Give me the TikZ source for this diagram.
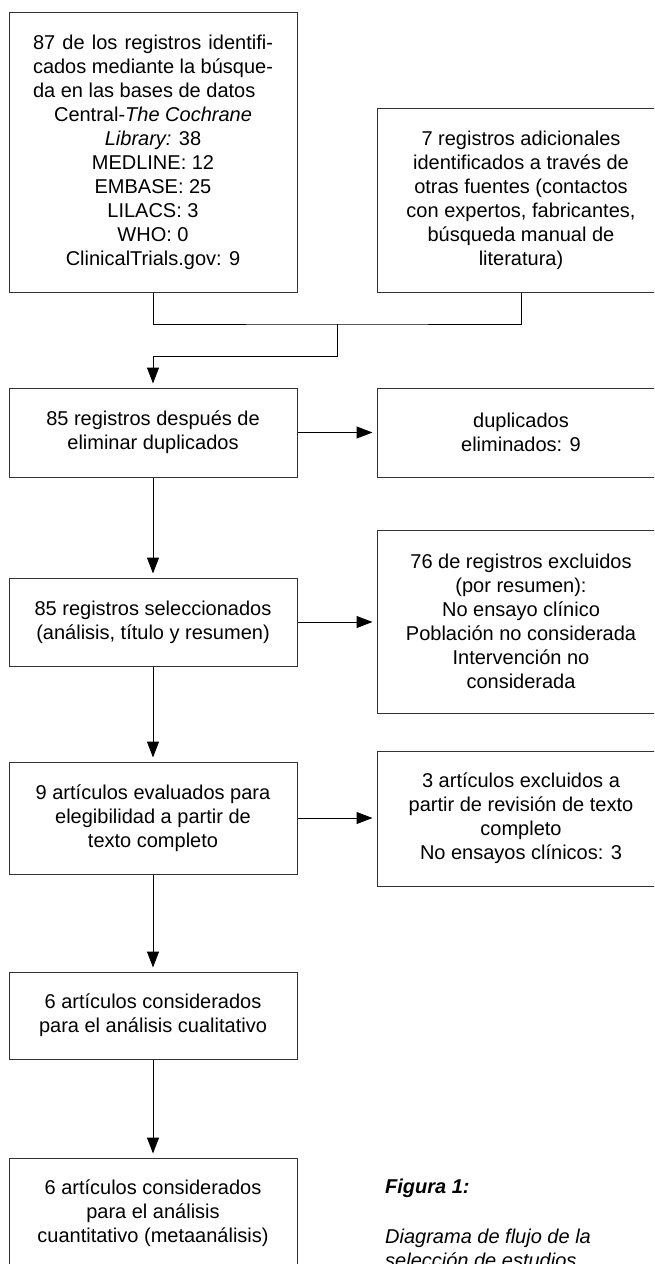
\documentclass[tikz,border=0pt]{standalone}
\usepackage{fontspec}
\setmainfont{Liberation Sans}
\usetikzlibrary{arrows.meta}

\begin{document}
\begin{tikzpicture}[x=1pt,y=1pt,
  box/.style={draw=black!80, line width=1pt, minimum width=288pt, inner sep=0pt,
    align=center, font=\fontsize{20}{24}\selectfont},
  flow/.style={line width=1pt, -{Triangle[length=16pt,width=12pt]}, shorten >=4pt},
  link/.style={line width=1pt}]

\useasboundingbox (0,0) rectangle (654,-1264);
\clip (0,0) rectangle (654,-1264);

% Identification
\node[box, minimum height=280pt] (ident) at (153,-152) {%
  \makebox[240pt][s]{87 de los registros identifi-}\\
  \makebox[240pt][s]{cados mediante la búsque-}\\
  \makebox[240pt][l]{da en las bases de datos}\\
  Central-\textit{The Cochrane}\\
  \textit{Library:} 38\\
  MEDLINE: 12\\
  EMBASE: 25\\
  LILACS: 3\\
  WHO: 0\\
  ClinicalTrials.gov: 9};
\node[box, minimum height=184pt] (extra) at (521,-200) {%
  7 registros adicionales\\
  identificados a través de\\
  otras fuentes (contactos\\
  con expertos, fabricantes,\\
  búsqueda manual de\\
  literatura)};

% Merge of both sources
\coordinate (join) at (337,-324);
\draw[link] (ident.south) |- (join) -| (extra.south);

% Screening
\node[box, minimum height=89pt] (dedup) at (153,-432.5) {85 registros después de\\eliminar duplicados};
\node[box, minimum height=89pt] (dupl) at (521,-432.5) {duplicados\\eliminados: 9};
\node[box, minimum height=88pt] (screen) at (153,-622) {85 registros seleccionados\\(análisis, título y resumen)};
\node[box, minimum height=183pt] (absexcl) at (521,-621.5) {%
  76 de registros excluidos\\
  (por resumen):\\
  No ensayo clínico\\
  Población no considerada\\
  Intervención no\\
  considerada};

% Eligibility
\node[box, minimum height=112pt] (elig) at (153,-818) {9 artículos evaluados para\\elegibilidad a partir de\\texto completo};
\node[box, minimum height=135pt] (fullexcl) at (521,-818.5) {%
  3 artículos excluidos a\\
  partir de revisión de texto\\
  completo\\
  No ensayos clínicos: 3};

% Included
\node[box, minimum height=87pt] (qual) at (153,-1015.5) {6 artículos considerados\\para el análisis cualitativo};
\node[box, minimum height=110pt] (quant) at (153,-1213) {6 artículos considerados\\para el análisis\\cuantitativo (metaanálisis)};

% Caption (cut off by the page edge, as in the figure)
\node[anchor=north west, inner sep=0pt, align=left, font=\fontsize{20}{24}\selectfont\itshape] (caption) at (385,-1179) {%
  \textbf{Figura 1:}\\[26pt]
  Diagrama de flujo de la\\
  selección de estudios};

% Arrows
\draw[flow] (join) -- ++(0,-32) -| (dedup.north);
\draw[flow] (dedup) -- (dupl);
\draw[flow] (dedup) -- (screen);
\draw[flow] (screen) -- (absexcl.west |- screen);
\draw[flow] (screen) -- (elig);
\draw[flow] (elig) -- (fullexcl.west |- elig);
\draw[flow] (elig) -- (qual);
\draw[flow] (qual) -- (quant);

\end{tikzpicture}
\end{document}
